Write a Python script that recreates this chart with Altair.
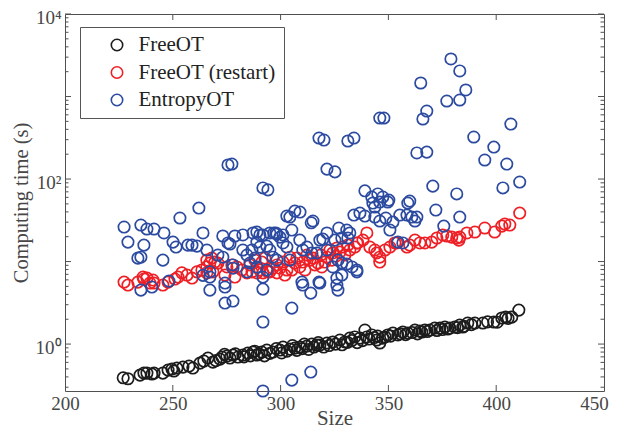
import altair as alt
import pandas as pd

# ---------------- data ----------------
freeot_size = [227.0, 229.2, 234.8, 236.6, 238.0, 240.3, 241.3, 245.4, 247.8, 249.6, 250.5, 251.9, 254.7, 257.5,
               259.3, 262.6, 264.4, 266.3, 268.6, 270.0, 271.9, 272.8, 274.0, 275.1, 276.5, 277.9, 279.0, 280.2,
               282.5, 283.0, 284.8, 286.0, 287.2, 288.0, 289.0, 290.0, 291.3, 292.5, 293.6, 295.0, 296.4, 298.0,
               299.7, 300.5, 301.1, 303.0, 304.3, 305.5, 306.6, 307.5, 308.9, 310.0, 311.0, 312.2, 313.0, 314.5,
               315.5, 316.8, 317.5, 318.2, 320.0, 321.5, 322.5, 324.2, 325.5, 327.5, 328.5, 329.8, 331.0, 332.1,
               333.0, 334.4, 335.5, 336.8, 338.0, 339.1, 340.0, 341.0, 342.3, 343.5, 344.6, 345.0, 346.0, 347.4,
               348.5, 349.7, 351.0, 352.1, 354.4, 355.5, 356.7, 358.0, 359.0, 361.0, 362.3, 363.5, 364.6, 365.5,
               366.9, 368.0, 369.2, 371.5, 372.5, 373.9, 375.0, 376.2, 377.5, 378.5, 380.8, 382.0, 383.1, 384.5,
               385.0, 386.8, 388.5, 390.1, 393.8, 396.0, 398.9, 400.5, 402.6, 404.4, 405.5, 407.2, 410.5]
freeot_time = [0.39, 0.38, 0.42, 0.445, 0.445, 0.433, 0.445, 0.445, 0.484, 0.498, 0.471, 0.512, 0.526, 0.541,
               0.512, 0.588, 0.622, 0.677, 0.605, 0.63, 0.658, 0.696, 0.75, 0.716, 0.677, 0.736, 0.76, 0.696,
               0.736, 0.70, 0.778, 0.72, 0.80, 0.82, 0.736, 0.76, 0.80, 0.72, 0.846, 0.77, 0.80, 0.88,
               0.846, 0.78, 0.92, 0.82, 0.87, 0.96, 0.894, 0.84, 0.92, 0.88, 1.00, 0.946, 0.86, 1.00,
               0.92, 0.97, 1.04, 0.97, 0.92, 1.03, 0.96, 1.06, 1.00, 1.12, 0.98, 1.06, 1.05, 1.18,
               1.10, 1.22, 1.04, 1.18, 1.10, 1.48, 1.22, 1.15, 1.29, 1.20, 1.12, 1.25, 1.03, 1.18,
               1.22, 1.29, 1.25, 1.36, 1.29, 1.33, 1.40, 1.30, 1.36, 1.38, 1.48, 1.33, 1.44, 1.40,
               1.48, 1.42, 1.48, 1.56, 1.46, 1.56, 1.50, 1.61, 1.52, 1.56, 1.61, 1.58, 1.70, 1.61,
               1.64, 1.80, 1.72, 1.80, 1.80, 1.86, 1.85, 1.84, 2.07, 2.12, 2.05, 2.12, 2.58]

restart_size = [227.4, 229.2, 233.8, 236.2, 238.0, 239.4, 240.8, 236.6, 241.3, 245.4, 247.8, 251.0, 252.4, 254.2,
                256.6, 258.9, 261.2, 263.5, 265.8, 267.2, 265.8, 268.1, 269.5, 270.9, 275.1, 277.4, 279.7, 282.1,
                284.4, 286.7, 289.0, 290.4, 291.8, 294.1, 296.4, 298.3, 265.8, 268.6, 274.2, 278.8, 295.0, 298.3,
                301.1, 302.9, 304.3, 306.6, 308.9, 312.2, 313.6, 315.0, 317.3, 319.1, 321.5, 322.9, 324.2, 326.1,
                328.9, 332.1, 335.4, 338.2, 341.4, 344.6, 346.0, 348.4, 350.7, 353.0, 346.0, 343.7, 340.0, 335.8,
                334.4, 327.5, 318.7, 353.9, 358.6, 359.9, 362.3, 364.6, 366.9, 370.1, 372.5, 375.2, 377.1, 379.4,
                381.7, 382.7, 383.1, 386.4, 390.1, 394.7, 399.3, 402.6, 404.0, 406.3, 410.9,
                285.8, 288.1, 291.3, 292.7, 299.7, 302.0, 305.2, 307.6, 310.3, 311.3, 315.9, 320.5, 323.8, 325.6,
                329.8, 331.2]
restart_time = [5.64, 5.19, 5.64, 6.49, 6.31, 5.49, 5.97, 6.14, 5.49, 5.19, 5.64, 6.14, 6.49, 7.3,
                6.86, 6.31, 7.5, 7.9, 8.6, 9.6, 10.4, 11.0, 9.86, 9.6, 8.6, 9.1, 8.6, 7.9,
                7.3, 7.5, 7.3, 7.9, 7.3, 7.5, 8.3, 7.3, 7.3, 7.5, 6.86, 6.49, 7.5, 9.1,
                9.86, 7.9, 11.3, 9.6, 8.6, 12.0, 10.4, 11.0, 9.6, 8.6, 11.3, 13.8, 12.7, 14.6,
                15.0, 13.8, 16.8, 18.2, 15.0, 12.7, 11.3, 13.8, 15.0, 16.8, 9.86, 13.8, 22.2, 16.8,
                15.0, 13.0, 12.0, 16.8, 15.0, 15.8, 18.2, 16.8, 16.8, 17.2, 19.3, 21.0, 20.4, 19.8,
                19.3, 18.2, 19.8, 22.2, 22.8, 25.5, 22.8, 26.9, 28.5, 27.7, 38.7,
                9.1, 10.4, 9.86, 11.0, 8.3, 6.86, 7.9, 11.0, 9.86, 7.9, 9.1, 9.86, 10.4, 11.6,
                12.0, 15.8]

entropy_size = [379.0, 383.1, 365.0, 385.9, 377.1, 383.1, 367.8, 366.0, 346.0, 347.9, 406.8, 317.8, 320.1, 331.2,
                334.0, 389.6, 363.2, 367.8, 398.9, 394.7, 404.9, 403.1, 410.9, 370.6, 381.7, 359.9, 372.0, 383.1,
                375.7, 339.1, 342.3, 345.1, 347.4, 350.2, 343.7, 275.6, 277.4, 291.8, 294.1, 262.1, 253.3, 302.9,
                306.6, 309.0, 315.0, 321.5, 325.2, 227.4, 229.2, 235.2, 238.0, 241.3, 245.9, 236.6, 233.8, 235.2,
                245.4, 250.1, 251.5, 257.0, 258.9, 261.2, 264.0, 235.2, 240.3, 248.2, 267.2, 273.2, 275.6, 278.8,
                282.5, 287.2, 289.0, 290.4, 267.2, 274.2, 274.2, 274.2, 277.9, 291.8, 305.2, 291.8, 296.9, 301.1,
                305.2, 314.0, 291.8, 359.0, 342.8, 346.0, 349.7, 334.0, 336.8, 339.1, 343.7, 346.0, 348.8, 350.7,
                352.1, 355.3, 358.6, 360.9, 363.2, 362.3, 354.4, 356.7, 327.0, 330.7, 332.1, 325.2, 314.2, 317.8,
                314.0, 326.1, 326.6, 335.4, 304.3, 321.5, 318.2, 319.6, 328.4, 331.2, 298.3, 299.7, 305.2, 308.9,
                301.1, 302.9, 304.3, 310.3, 312.2, 314.5, 316.8, 321.5, 326.6, 328.4, 324.2, 330.7, 333.1, 335.4,
                309.9, 310.3, 318.2, 326.1, 328.4, 265.8, 270.9, 273.2, 277.9, 277.9, 282.5, 284.4, 286.7, 288.1,
                289.0, 290.4, 293.6, 295.0, 285.8, 289.0, 293.6, 284.4, 291.8, 296.4, 298.3, 276.5, 291.8, 295.0,
                297.8, 267.2, 264.0]
entropy_time = [2850, 2040, 1458, 1200, 882, 907, 667, 534, 549, 549, 464, 314, 297, 289,
                314, 323, 207, 212, 244, 170, 152, 78, 92, 82, 66, 54, 42.1, 34.6,
                26.9, 72, 60.5, 66, 60.5, 55.6, 45.8, 148, 152, 78, 74, 44.5, 33.7, 35.6,
                40.9, 39.8, 31.0, 132, 122, 26.2, 17.2, 27.7, 24.8, 24.8, 22.2, 15.8, 11.0, 11.3,
                10.4, 17.2, 15.0, 15.8, 15.8, 15.4, 22.2, 4.51, 4.91, 5.80, 6.49, 20.4, 16.8, 20.4,
                21.0, 22.2, 22.8, 21.0, 4.51, 5.49, 4.91, 3.14, 3.32, 4.64, 2.73, 1.85, 22.2, 21.0,
                0.366, 0.458, 0.27, 51.2, 51.2, 52.6, 52.6, 36.6, 38.7, 35.6, 34.6, 31.0, 33.7, 24.1,
                30.1, 36.6, 36.6, 34.6, 34.6, 31.0, 17.2, 16.8, 25.5, 24.1, 22.2, 18.2, 29.5, 5.64,
                4.15, 6.31, 4.51, 7.9, 34.6, 22.2, 18.2, 18.7, 19.3, 19.3, 21.5, 19.8, 24.1, 18.2,
                16.8, 15.0, 10.4, 13.8, 15.0, 12.7, 12.7, 13.8, 10.4, 9.6, 8.6, 9.3, 8.6, 7.5,
                5.64, 5.19, 5.49, 5.19, 6.86, 13.8, 12.0, 11.3, 9.1, 8.3, 13.8, 12.0, 13.8, 11.0,
                17.2, 15.0, 15.4, 13.8, 9.6, 8.6, 7.9, 7.5, 6.49, 11.3, 10.4, 16.3, 21.0, 22.2,
                22.2, 7.5, 6.8]

series_names = ["FreeOT", "FreeOT (restart)", "EntropyOT"]
series_colors = ["#1c1c1c", "#ee1f25", "#2b4aa0"]

x_labels = [200, 250, 300, 350, 400, 450]
x_ticks = [250, 300, 350, 400]
y_labels = [1, 100, 10000]
y_major = [1, 10, 100, 1000, 10000]
y_minor = [0.3, 0.4, 0.5, 0.6, 0.7, 0.8, 0.9,
           2, 3, 4, 5, 6, 7, 8, 9,
           20, 30, 40, 50, 60, 70, 80, 90,
           200, 300, 400, 500, 600, 700, 800, 900,
           2000, 3000, 4000, 5000, 6000, 7000, 8000, 9000]

# ---------------- tables ----------------
frames = []
for name, s, t in [(series_names[0], freeot_size, freeot_time),
                   (series_names[1], restart_size, restart_time),
                   (series_names[2], entropy_size, entropy_time)]:
    frames.append(pd.DataFrame({"size": s, "time": t, "series": name}))
df = pd.concat(frames, ignore_index=True)
df["order"] = range(len(df))

W, H = 539, 377
AX = "#505050"
FONT = "Liberation Serif"

xs = alt.Scale(domain=[200, 450], nice=False, zero=False)
ys = alt.Scale(type="log", domain=[0.27, 10000], nice=False)

ylab = "datum.value == 1 ? '10\u2070' : datum.value == 100 ? '10\u00b2' : '10\u2074'"
pad = "\u00a0" * 8

points = alt.Chart(df).mark_point(shape="circle", filled=False, size=130, strokeWidth=1.7, opacity=1).encode(
    x=alt.X("size:Q", scale=xs,
            axis=alt.Axis(title="Size", values=x_labels, ticks=False, domain=False,
                          grid=False, labelFontSize=19, titleFontSize=21, labelPadding=3, titlePadding=-6,
                          labelFlush=False,
                          labelOffset={"condition": {"test": "datum.value == 450", "value": -10}, "value": 0})),
    y=alt.Y("time:Q", scale=ys,
            axis=alt.Axis(title="Computing time (s)", values=y_labels, labelExpr=ylab, ticks=False,
                          domain=False, grid=False, labelFontSize=19, titleFontSize=20.5, labelPadding=4,
                          labelOffset=3, titlePadding=4, labelFlush=False)),
    color=alt.Color("series:N", scale=alt.Scale(domain=series_names, range=series_colors),
                    legend=alt.Legend(title=None, orient="none", legendX=15, legendY=13,
                                      fillColor="white", strokeColor="#555555", padding=7.5,
                                      symbolOffset=19, labelOffset=11, rowPadding=5.5,
                                      labelFont=FONT, labelFontSize=21, labelColor="#222222",
                                      labelLimit=400, symbolSize=130, symbolStrokeWidth=1.6,
                                      symbolType="circle", labelExpr="datum.label + '" + pad + "'")),
    order="order:Q",
)

xt = pd.DataFrame({"tsize": x_ticks})
ymaj = pd.DataFrame({"ttime": y_major})
ymin = pd.DataFrame({"ttime": y_minor})

def xtick(y0, y1):
    return alt.Chart(xt).mark_rule(color=AX, strokeWidth=1).encode(
        x=alt.X("tsize:Q", scale=xs), y=alt.value(y0), y2=alt.value(y1))

def ytick(tab, x0, x1):
    return alt.Chart(tab).mark_rule(color=AX, strokeWidth=1).encode(
        y=alt.Y("ttime:Q", scale=ys), x=alt.value(x0), x2=alt.value(x1))

layers = [
    points,
    xtick(H, H - 6), xtick(0, 6),
    ytick(ymaj, 0, 6), ytick(ymaj, W, W - 6),
    ytick(ymin, 0, 3.5), ytick(ymin, W, W - 3.5),
]

chart = alt.layer(*layers).properties(
    width=W, height=H, autosize="none",
    padding={"left": 57, "top": 6, "right": 6, "bottom": 40},
).configure(font=FONT).configure_view(stroke=AX, strokeWidth=1).configure_axis(
    labelColor="#474747", titleColor="#474747", labelFont=FONT, titleFont=FONT, titleFontWeight="normal"
)

chart.save("out.html", embed_options={"renderer": "svg", "actions": False})
